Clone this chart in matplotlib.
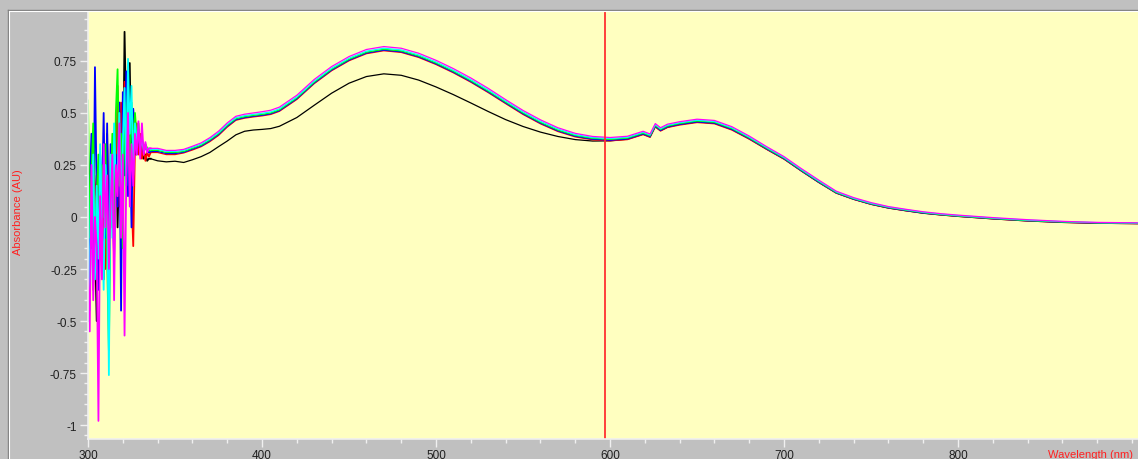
import matplotlib
matplotlib.use("Agg")
import matplotlib.pyplot as plt
from matplotlib.ticker import MultipleLocator, FixedLocator, FixedFormatter
from matplotlib.lines import Line2D

plt.rcParams['font.family'] = ['Liberation Sans', 'DejaVu Sans']
plt.rcParams['axes.unicode_minus'] = False

# noisy start, 1 nm steps
wl_noise = list(range(300, 336))
# smoother part of the spectrum
wl_smooth = [336, 340, 345, 350, 355, 360, 365, 370, 375, 380,
             385, 390, 395, 400, 405, 410, 420, 430, 440, 450,
             460, 470, 480, 490, 500, 510, 520, 530, 540, 550,
             560, 570, 580, 590, 600, 610, 619, 623, 626, 629,
             633, 640, 650, 660, 670, 680, 690, 700, 710, 720,
             730, 740, 750, 760, 770, 780, 790, 800, 820, 840,
             860, 880, 903]

noise_black = [0.28, 0.05, -0.15, 0.10, -0.10, -0.50, 0.20, -0.05, 0.15, -0.30,
               0.05, 0.40, -0.40, 0.15, 0.30, -0.10, 0.45, -0.05, 0.30, 0.50,
               0.10, 0.89, 0.45, 0.25, 0.74, 0.20, 0.45, 0.30, 0.40, 0.32,
               0.35, 0.30, 0.28, 0.30, 0.27, 0.28]
noise_red = [0.05, -0.20, 0.22, -0.35, 0.10, 0.20, -0.30, 0.25, -0.10, 0.05,
             -0.25, 0.35, 0.00, 0.20, -0.05, 0.40, 0.10, 0.63, 0.05, 0.55,
             0.30, 0.65, 0.20, 0.55, 0.40, 0.10, -0.14, 0.35, 0.45, 0.30,
             0.40, 0.28, 0.33, 0.27, 0.31, 0.29]
noise_blue = [-0.50, 0.15, 0.40, -0.20, 0.72, 0.10, -0.35, 0.30, 0.05, 0.50,
              -0.10, 0.45, -0.30, 0.35, 0.10, -0.20, 0.30, 0.05, 0.55, -0.45,
              0.60, 0.20, 0.70, 0.10, 0.45, -0.05, 0.52, 0.40, 0.30, 0.42,
              0.33, 0.38, 0.31, 0.34, 0.32, 0.31]
noise_green = [0.56, -0.10, 0.20, 0.45, -0.20, 0.10, 0.30, -0.15, 0.25, 0.00,
               0.35, -0.20, -0.64, 0.10, 0.40, -0.05, 0.50, 0.71, 0.15, 0.40,
               -0.15, 0.55, 0.30, 0.65, 0.20, 0.55, 0.35, 0.50, 0.38, 0.45,
               0.33, 0.37, 0.32, 0.35, 0.33, 0.32]
noise_cyan = [0.20, -0.45, 0.05, 0.30, -0.30, 0.15, -0.20, 0.35, 0.00, -0.35,
              0.25, 0.10, -0.76, 0.30, -0.10, 0.45, 0.15, 0.20, 0.50, 0.05,
              0.35, 0.62, 0.15, 0.76, 0.40, 0.63, 0.20, 0.45, 0.36, 0.40,
              0.34, 0.36, 0.33, 0.34, 0.32, 0.33]
noise_magenta = [-0.30, -0.55, 0.25, -0.40, 0.00, -0.15, -0.98, 0.10, -0.30, 0.35,
                 -0.05, 0.20, -0.25, 0.05, 0.30, -0.40, 0.25, 0.10, 0.45, -0.10,
                 0.30, -0.57, 0.20, 0.50, 0.05, 0.35, 0.15, 0.40, 0.30, 0.46,
                 0.28, 0.45, 0.30, 0.36, 0.31, 0.33]

smooth_black = [0.28, 0.27, 0.265, 0.268, 0.262, 0.275, 0.29, 0.31, 0.338, 0.365,
                0.395, 0.412, 0.418, 0.421, 0.425, 0.436, 0.478, 0.537, 0.595, 0.643,
                0.675, 0.688, 0.681, 0.658, 0.625, 0.588, 0.548, 0.507, 0.468, 0.435,
                0.408, 0.387, 0.372, 0.365, 0.366, 0.374, 0.398, 0.385, 0.435, 0.415,
                0.432, 0.445, 0.457, 0.451, 0.421, 0.376, 0.326, 0.279, 0.221, 0.166,
                0.115, 0.085, 0.061, 0.043, 0.030, 0.018, 0.010, 0.003, -0.009, -0.019,
                -0.026, -0.030, -0.032]
smooth_red = [0.31, 0.31, 0.30, 0.30, 0.308, 0.322, 0.338, 0.362, 0.392, 0.432,
              0.465, 0.475, 0.481, 0.486, 0.493, 0.508, 0.565, 0.641, 0.703, 0.751,
              0.785, 0.799, 0.791, 0.767, 0.733, 0.693, 0.648, 0.598, 0.545, 0.493,
              0.448, 0.411, 0.385, 0.371, 0.366, 0.372, 0.396, 0.383, 0.433, 0.413,
              0.430, 0.442, 0.454, 0.448, 0.418, 0.374, 0.325, 0.278, 0.221, 0.166,
              0.115, 0.085, 0.061, 0.043, 0.030, 0.019, 0.010, 0.003, -0.009, -0.019,
              -0.026, -0.030, -0.032]
smooth_blue = [0.315, 0.315, 0.305, 0.305, 0.311, 0.326, 0.341, 0.366, 0.396, 0.436,
               0.468, 0.478, 0.484, 0.489, 0.496, 0.511, 0.568, 0.644, 0.706, 0.754,
               0.788, 0.802, 0.794, 0.770, 0.736, 0.696, 0.651, 0.601, 0.548, 0.496,
               0.451, 0.414, 0.388, 0.374, 0.369, 0.375, 0.399, 0.386, 0.436, 0.416,
               0.433, 0.445, 0.457, 0.451, 0.421, 0.377, 0.327, 0.280, 0.222, 0.167,
               0.116, 0.086, 0.062, 0.044, 0.031, 0.019, 0.011, 0.004, -0.008, -0.018,
               -0.025, -0.029, -0.031]
smooth_green = [0.32, 0.32, 0.31, 0.31, 0.315, 0.33, 0.345, 0.37, 0.40, 0.44,
                0.472, 0.482, 0.488, 0.493, 0.50, 0.515, 0.572, 0.648, 0.71, 0.758,
                0.792, 0.806, 0.798, 0.774, 0.74, 0.70, 0.655, 0.605, 0.552, 0.50,
                0.455, 0.418, 0.392, 0.378, 0.373, 0.379, 0.403, 0.39, 0.44, 0.42,
                0.437, 0.449, 0.461, 0.455, 0.425, 0.38, 0.33, 0.283, 0.225, 0.17,
                0.118, 0.088, 0.064, 0.046, 0.033, 0.021, 0.012, 0.005, -0.007, -0.017,
                -0.024, -0.028, -0.030]
smooth_cyan = [0.325, 0.325, 0.315, 0.315, 0.32, 0.335, 0.35, 0.375, 0.405, 0.445,
               0.477, 0.487, 0.493, 0.498, 0.505, 0.520, 0.577, 0.653, 0.715, 0.763,
               0.797, 0.811, 0.803, 0.779, 0.745, 0.705, 0.660, 0.610, 0.557, 0.505,
               0.460, 0.423, 0.396, 0.382, 0.377, 0.383, 0.407, 0.394, 0.444, 0.424,
               0.441, 0.453, 0.465, 0.459, 0.429, 0.384, 0.334, 0.286, 0.228, 0.173,
               0.121, 0.090, 0.066, 0.048, 0.035, 0.023, 0.014, 0.007, -0.005, -0.015,
               -0.022, -0.027, -0.029]
smooth_magenta = [0.33, 0.33, 0.32, 0.32, 0.325, 0.34, 0.356, 0.381, 0.412, 0.452,
                  0.484, 0.494, 0.500, 0.506, 0.513, 0.528, 0.585, 0.661, 0.723, 0.771,
                  0.805, 0.819, 0.811, 0.787, 0.753, 0.713, 0.668, 0.618, 0.564, 0.512,
                  0.467, 0.429, 0.402, 0.387, 0.382, 0.388, 0.412, 0.399, 0.449, 0.429,
                  0.446, 0.458, 0.470, 0.464, 0.434, 0.389, 0.338, 0.290, 0.232, 0.177,
                  0.124, 0.093, 0.069, 0.050, 0.037, 0.025, 0.016, 0.009, -0.003, -0.013,
                  -0.021, -0.026, -0.028]

series = [
    ("#000000", noise_black, smooth_black),
    ("#ff0000", noise_red, smooth_red),
    ("#0000ff", noise_blue, smooth_blue),
    ("#00ff00", noise_green, smooth_green),
    ("#00ffff", noise_cyan, smooth_cyan),
    ("#ff00ff", noise_magenta, smooth_magenta),
]

cursor_nm = 597
y_ticks = [0.75, 0.5, 0.25, 0, -0.25, -0.5, -0.75, -1]
y_labels = ["0.75", "0.5", "0.25", "0", "-0.25", "-0.5", "-0.75", "-1"]
x_ticks = [300, 400, 500, 600, 700, 800]

fig = plt.figure(figsize=(11.38, 4.6), dpi=100)
fig.patch.set_facecolor("#c0c0c0")

# window frame lines
fig.add_artist(Line2D([8/1138, 8/1138], [0, 1 - 11/460], color="#808080", lw=1))
fig.add_artist(Line2D([8/1138, 1], [1 - 11/460, 1 - 11/460], color="#808080", lw=1))
fig.add_artist(Line2D([9/1138, 9/1138], [0, 1 - 12/460], color="#ffffff", lw=0.8))
fig.add_artist(Line2D([9/1138, 1], [1 - 12/460, 1 - 12/460], color="#ffffff", lw=0.8))

ax = fig.add_axes([88/1138, 1 - 440/460, 1 - 88/1138, (440 - 12)/460])
ax.set_facecolor("#ffffc0")

for color, nz, sm in series:
    # noisy part drawn a bit heavier, smooth part thin
    ax.plot(wl_noise + wl_smooth[:1], nz + sm[:1], color=color, lw=1.3)
    ax.plot(wl_smooth, sm, color=color, lw=0.9)

ax.axvline(cursor_nm, color="#ff3030", lw=1.3)

ax.set_xlim(300, 903.4)
ax.set_ylim(-1.067, 0.99)

ax.xaxis.set_major_locator(FixedLocator(x_ticks))
ax.xaxis.set_minor_locator(MultipleLocator(20))
ax.yaxis.set_major_locator(FixedLocator(y_ticks))
ax.yaxis.set_major_formatter(FixedFormatter(y_labels))
ax.yaxis.set_minor_locator(MultipleLocator(0.05))

for s in ["top", "right"]:
    ax.spines[s].set_visible(False)
for s in ["left", "bottom"]:
    ax.spines[s].set_color("#f0f0f0")
    ax.spines[s].set_linewidth(1.2)

ax.tick_params(which="major", direction="out", length=6, width=1, color="#f0f0f0",
               labelsize=8.5, labelcolor="#202020", pad=2)
ax.tick_params(which="minor", direction="out", length=3, width=1, color="#f0f0f0")
ax.tick_params(axis="x", which="major", pad=1)

fig.text(18/1138, 1 - 212/460, "Absorbance (AU)", color="#ff2020", rotation=90,
         ha="center", va="center", fontsize=8)
fig.text(1048/1138, 1 - 455/460, "Wavelength (nm)", color="#ff2020",
         ha="left", va="center", fontsize=8)

fig.savefig("out.png", dpi=100, facecolor=fig.get_facecolor())
